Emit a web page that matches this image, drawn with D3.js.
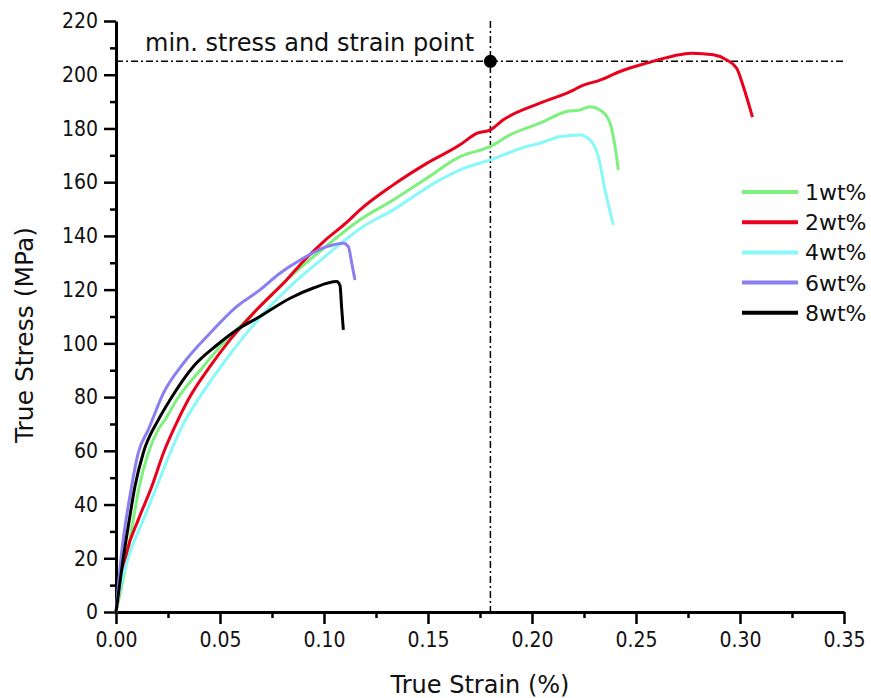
<!DOCTYPE html>
<html><head><meta charset="utf-8">
<script src="https://cdn.jsdelivr.net/npm/d3@7"></script>
<style>
body{margin:0;background:#fff;}
svg{display:block;}
.tick text{font-family:"DejaVu Sans Condensed","DejaVu Sans",sans-serif;font-stretch:condensed;}
</style></head><body>
<svg id="c" width="871" height="698"></svg>
<script>
// ---- data ----
const seriesNames = ["1wt%","2wt%","4wt%","6wt%","8wt%"];
const seriesColors = ["#7ef07e","#e8001c","#88f8f8","#8a7ef0","#000000"];
const strain1 = [0,0.0043,0.0083,0.0112,0.0155,0.0202,0.0236,0.0292,0.042,0.0516,0.0644,0.0804,0.09,0.1,0.1173,0.1333,0.1494,0.1654,0.18,0.1894,0.2038,0.2167,0.2231,0.2279,0.2327,0.2375,0.2399,0.2415];
const stress1 = [0,15.7,34.3,46.7,59.2,67.8,71.6,79,91.4,100.1,110,122.4,129,135.5,146,153.4,161.5,169.5,173.3,177.6,182,186.3,186.9,188.1,186.9,182,173.3,164.6];
const strain2 = [0,0.0035,0.0051,0.0107,0.0172,0.0228,0.0292,0.0356,0.0452,0.0548,0.0676,0.082,0.09,0.1,0.1109,0.1173,0.1333,0.1494,0.1654,0.1734,0.18,0.1862,0.2038,0.2199,0.2231,0.2327,0.2423,0.2551,0.268,0.2768,0.2872,0.2936,0.2984,0.3016,0.306];
const stress2 = [0,15.7,22,34.3,46.7,59.2,70.5,80.2,91.4,101.3,112.5,123.6,130.5,138,145,149.7,159,167,173.9,178.2,179.5,183.2,189.4,194.3,195.6,198,201.2,204.3,207,208,207.4,205.5,202.4,195.6,184.2];
const strain4 = [0,0.0022,0.0067,0.0131,0.0196,0.026,0.0332,0.0404,0.0516,0.0628,0.074,0.0837,0.1,0.1189,0.1333,0.1542,0.1654,0.18,0.1974,0.2038,0.2135,0.2231,0.2279,0.2319,0.2351,0.2391];
const stress4 = [0,9.5,22,34.3,46.7,59.2,71.2,80.2,92.6,103.8,113.7,121.2,132,143.5,149.7,160.2,164.6,168.3,173.3,174.5,177,177.6,175.7,169.5,157.1,144.1];
const strain6 = [0,0.0027,0.0075,0.0107,0.0155,0.0228,0.0324,0.0452,0.058,0.0692,0.0788,0.09,0.1013,0.1093,0.1117,0.1133,0.1149];
const stress6 = [0,22,46.7,59.2,67.8,81.5,92.6,103.8,113.7,119.9,126.1,131.7,136,137.3,136,130,123.6];
const strain8 = [0,0.0027,0.0064,0.0091,0.0131,0.0204,0.026,0.0372,0.0484,0.058,0.0692,0.0837,0.0949,0.1061,0.1077,0.1085,0.1093];
const stress8 = [0,15.7,34.3,46.7,59.2,71.6,79,91.4,99.3,105,110,116.8,120.6,123,121.5,113,105];
const xTicks = [0,0.05,0.1,0.15,0.2,0.25,0.3,0.35];
const yTicks = [0,20,40,60,80,100,120,140,160,180,200,220];
const refStrain = 0.18, refStress = 205;
const annotation = "min. stress and strain point";

const strains = [strain1,strain2,strain4,strain6,strain8];
const stresses = [stress1,stress2,stress4,stress6,stress8];

// ---- chart ----
const svg = d3.select("#c");
const x = d3.scaleLinear().domain([0,0.35]).range([116,844]);
const y = d3.scaleLinear().domain([0,220]).range([612,21]);
const sansFont = "DejaVu Sans, Verdana, sans-serif";

// minor ticks
const xMinor = d3.range(0.025,0.35,0.05);
const yMinor = d3.range(10,220,20);
svg.append("g").attr("transform","translate(0,612)")
  .call(d3.axisBottom(x).tickValues(xMinor).tickSize(6).tickSizeOuter(0).tickFormat(""))
  .call(g=>{g.select(".domain").remove();g.selectAll("line").attr("stroke-width",2.5);});
svg.append("g").attr("transform","translate(116,0)")
  .call(d3.axisLeft(y).tickValues(yMinor).tickSize(6).tickSizeOuter(0).tickFormat(""))
  .call(g=>{g.select(".domain").remove();g.selectAll("line").attr("stroke-width",2.5);});

// major axes
const gx = svg.append("g").attr("transform","translate(0,612)")
  .call(d3.axisBottom(x).tickValues(xTicks).tickSize(12).tickSizeOuter(0).tickPadding(8).tickFormat(d3.format(".2f")));
gx.select(".domain").attr("stroke-width",3);
gx.selectAll("line").attr("stroke-width",2.5);
gx.selectAll("text").attr("font-size",21).attr("fill","#111");

const gy = svg.append("g").attr("transform","translate(116,0)")
  .call(d3.axisLeft(y).tickValues(yTicks).tickSize(12).tickSizeOuter(0).tickPadding(6).tickFormat(d3.format("d")));
gy.select(".domain").attr("stroke-width",3);
gy.selectAll("line").attr("stroke-width",2.5);
gy.selectAll("text").attr("font-size",21).attr("fill","#111");

// reference lines
svg.append("line").attr("x1",x(0)).attr("x2",x(0.35)).attr("y1",y(refStress)).attr("y2",y(refStress))
  .attr("stroke","#000").attr("stroke-width",1.5).attr("stroke-dasharray","7,3,2,3");
svg.append("line").attr("x1",x(refStrain)).attr("x2",x(refStrain)).attr("y1",y(220)).attr("y2",y(0))
  .attr("stroke","#000").attr("stroke-width",1.5).attr("stroke-dasharray","7,3,2,3");

// curves
const line = d3.line().x(d=>x(d[0])).y(d=>y(d[1])).curve(d3.curveMonotoneX);
seriesNames.forEach((n,i)=>{
  const pts = strains[i].map((s,j)=>[s,stresses[i][j]]);
  svg.append("path").datum(pts).attr("d",line).attr("fill","none")
    .attr("stroke",seriesColors[i]).attr("stroke-width",3).attr("stroke-linejoin","round");
});

// dot and annotation
svg.append("circle").attr("cx",x(refStrain)).attr("cy",y(refStress)).attr("r",6.5).attr("fill","#000");
svg.append("text").attr("x",145).attr("y",51).attr("font-family",sansFont)
  .attr("font-size",24).attr("fill","#111").text(annotation);

// legend
const lg = svg.append("g");
seriesNames.forEach((n,i)=>{
  const yy = 192 + i*30.2;
  lg.append("line").attr("x1",742).attr("x2",798).attr("y1",yy).attr("y2",yy)
    .attr("stroke",seriesColors[i]).attr("stroke-width",4);
  lg.append("text").attr("x",805).attr("y",yy+8).attr("font-family",sansFont)
    .attr("font-size",22).attr("fill","#111").text(n);
});

// axis titles
svg.append("text").attr("x",480).attr("y",693).attr("text-anchor","middle")
  .attr("font-family",sansFont).attr("font-size",24).attr("fill","#111").text("True Strain (%)");
svg.append("text").attr("transform","translate(33,335) rotate(-90)").attr("text-anchor","middle")
  .attr("font-family",sansFont).attr("font-size",25).attr("fill","#111").text("True Stress (MPa)");
</script>
</body></html>
